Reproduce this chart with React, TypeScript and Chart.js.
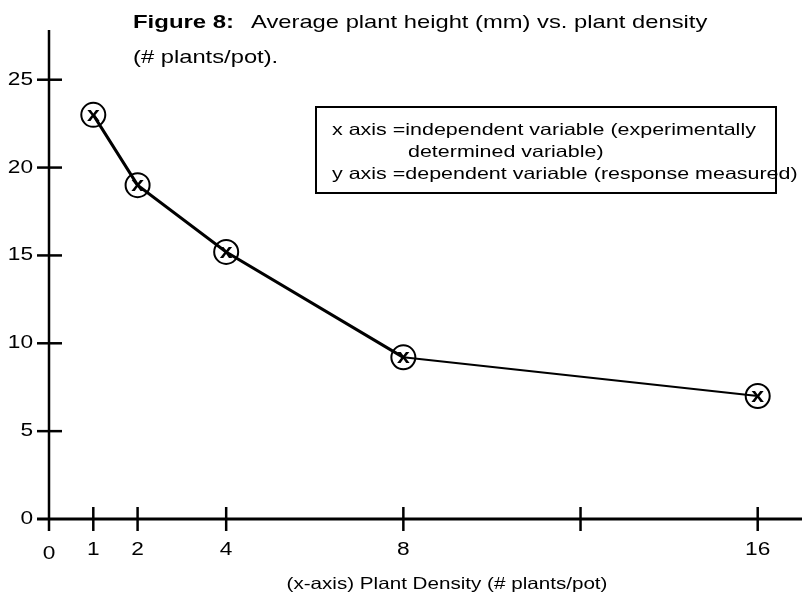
import React, { useEffect, useRef } from "react";
import { Chart, registerables } from "chart.js";
Chart.register(...registerables);

// ---- data ----
const densities = [1, 2, 4, 8, 16];
const heights = [23, 19, 15.2, 9.2, 7];
const xTickValues = [0, 1, 2, 4, 8, 12, 16];
const xTickLabels = ["0", "1", "2", "4", "8", "", "16"];
const yTickValues = [0, 5, 10, 15, 20, 25];
const yTickLabels = ["0", "5", "10", "15", "20", "25"];
const titleBold = "Figure 8:";
const titleLine1 = "Average plant height (mm) vs. plant density";
const titleLine2 = "(# plants/pot).";
const noteLines = [
  "x axis =independent variable (experimentally",
  "determined variable)",
  "y axis =dependent variable (response measured)",
];
const xAxisTitle = "(x-axis) Plant Density (# plants/pot)";
const markerGlyph = "x";

const FONT = '"Liberation Sans", Arial, sans-serif';
const SX = 1.26; // horizontal stretch of the original figure's lettering

function text(ctx: any, s: string, x: number, y: number, align: string, sx = SX) {
  ctx.save();
  ctx.translate(x, y);
  ctx.scale(sx, 1);
  ctx.textAlign = align;
  ctx.fillText(s, 0, 0);
  ctx.restore();
}

const drawPlugin = {
  id: "figureDecor",
  beforeDraw(chart: any) {
    const ctx = chart.ctx;
    ctx.save();
    ctx.fillStyle = "#ffffff";
    ctx.fillRect(0, 0, chart.width, chart.height);
    ctx.restore();
  },
  beforeDatasetsDraw(chart: any) {
    const ctx = chart.ctx;
    const xs = chart.scales.x;
    const ys = chart.scales.y;
    const x0 = xs.getPixelForValue(0);
    const y0 = ys.getPixelForValue(0);
    ctx.save();
    ctx.strokeStyle = "#000";
    ctx.lineCap = "butt";
    // x axis
    ctx.lineWidth = 3;
    ctx.beginPath();
    ctx.moveTo(x0 - 12, y0);
    ctx.lineTo(chart.width, y0);
    ctx.stroke();
    // y axis
    ctx.lineWidth = 2.5;
    ctx.beginPath();
    ctx.moveTo(x0, chart.chartArea.top + 3);
    ctx.lineTo(x0, y0 + 12);
    ctx.stroke();
    // y ticks
    yTickValues.forEach((v) => {
      if (v === 0) return;
      const py = ys.getPixelForValue(v);
      ctx.beginPath();
      ctx.moveTo(x0 - 12, py);
      ctx.lineTo(x0 + 13, py);
      ctx.stroke();
    });
    // x ticks
    xTickValues.forEach((v) => {
      if (v === 0) return;
      const px = xs.getPixelForValue(v);
      ctx.beginPath();
      ctx.moveTo(px, y0 - 12);
      ctx.lineTo(px, y0 + 12);
      ctx.stroke();
    });
    // tick labels
    ctx.fillStyle = "#000";
    ctx.font = `18px ${FONT}`;
    ctx.textBaseline = "middle";
    yTickValues.forEach((v, i) => {
      text(ctx, yTickLabels[i], x0 - 16, ys.getPixelForValue(v), "right");
    });
    xTickValues.forEach((v, i) => {
      const lbl = xTickLabels[i];
      if (!lbl) return;
      text(ctx, lbl, xs.getPixelForValue(v), y0 + (v === 0 ? 35 : 31), "center");
    });
    ctx.restore();
  },
  afterDatasetsDraw(chart: any) {
    const ctx = chart.ctx;
    const meta = chart.getDatasetMeta(0);
    ctx.save();
    ctx.fillStyle = "#000";
    ctx.font = `bold 20px ${FONT}`;
    ctx.textBaseline = "middle";
    meta.data.forEach((pt: any) => {
      text(ctx, markerGlyph, pt.x, pt.y + 0.5, "center", 1.15);
    });
    ctx.restore();
  },
  afterDraw(chart: any) {
    const ctx = chart.ctx;
    ctx.save();
    ctx.fillStyle = "#000";
    ctx.textBaseline = "middle";
    // title
    ctx.font = `bold 19px ${FONT}`;
    text(ctx, titleBold, 133, 23, "left");
    ctx.font = `19px ${FONT}`;
    text(ctx, titleLine1, 251, 23, "left", 1.25);
    text(ctx, titleLine2, 133, 58, "left", 1.25);
    // note box
    ctx.lineWidth = 2;
    ctx.strokeStyle = "#000";
    ctx.strokeRect(316, 107, 460, 86);
    ctx.font = `16.5px ${FONT}`;
    text(ctx, noteLines[0], 332, 130, "left", 1.3);
    text(ctx, noteLines[1], 408, 152, "left", 1.3);
    text(ctx, noteLines[2], 332, 174, "left", 1.3);
    // x axis title
    ctx.font = `16.5px ${FONT}`;
    text(ctx, xAxisTitle, 447, 584, "center", 1.25);
    ctx.restore();
  },
};

export default function App() {
  const ref = useRef<HTMLCanvasElement | null>(null);
  useEffect(() => {
    if (!ref.current) return;
    const chart = new Chart(ref.current, {
      type: "line",
      data: {
        datasets: [
          {
            data: densities.map((d, i) => ({ x: d, y: heights[i] })),
            borderColor: "#000",
            borderWidth: 3,
            segment: { borderWidth: (c: any) => (c.p1DataIndex === densities.length - 1 ? 2 : 3) },
            pointRadius: 12,
            pointBorderWidth: 2,
            pointBackgroundColor: "rgba(255,255,255,0)",
            pointBorderColor: "#000",
            tension: 0,
            clip: false as any,
          },
        ],
      },
      options: {
        animation: false,
        responsive: false,
        layout: { autoPadding: false, padding: { left: 49, right: 0, top: 27, bottom: 77 } } as any,
        plugins: { legend: { display: false }, tooltip: { enabled: false }, title: { display: false } },
        scales: {
          x: { type: "linear", min: 0, max: 17, display: false },
          y: { type: "linear", min: 0, max: 28, display: false },
        },
      },
      plugins: [drawPlugin],
    });
    return () => chart.destroy();
  }, []);
  return (
    <div style={{ position: "fixed", left: 0, top: 0, width: 802, height: 596, background: "#fff" }}>
      <canvas ref={ref} width={802} height={596} style={{ display: "block" }} />
    </div>
  );
}
